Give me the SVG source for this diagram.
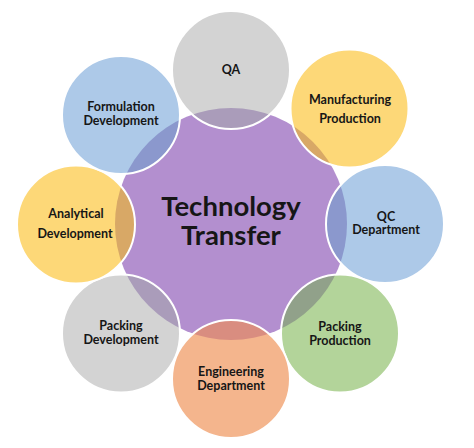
<svg xmlns="http://www.w3.org/2000/svg" width="474" height="448" viewBox="0 0 474 448">
  <defs>
    <clipPath id="core">
      <circle cx="231" cy="224" r="116"/>
    </clipPath>
    <style>
      .ring { fill: none; stroke: #ffffff; stroke-width: 2; }
      .lbl { font-family: Lato, "Open Sans", "DejaVu Sans", sans-serif; font-weight: bold; font-size: 12.5px; fill: #161616; text-anchor: middle; }
      .title { font-family: Lato, "Open Sans", "DejaVu Sans", sans-serif; font-weight: bold; font-size: 27.5px; fill: #161616; text-anchor: middle; }
      .gray { fill: #d3d3d3; } .gray-ov { fill: #aa9cba; }
      .yel { fill: #fdd878; } .yel-ov { fill: #d8a866; }
      .blue { fill: #adc9e8; } .blue-ov { fill: #8b98cd; }
      .grn { fill: #b3d49a; } .grn-ov { fill: #91a18a; }
      .org { fill: #f4b58d; } .org-ov { fill: #d98d80; }
    </style>
  </defs>
  <rect width="474" height="448" fill="#ffffff"/>

  <g id="technology-transfer">
    <circle cx="231" cy="224" r="116" fill="#b38fcf"/>
  </g>

  <g id="connectors"></g>

  <g id="qa">
    <circle class="gray" cx="231" cy="70" r="59"/>
    <circle class="gray-ov" cx="231" cy="70" r="59" clip-path="url(#core)"/>
    <circle class="ring" cx="231" cy="70" r="59"/>
    <text class="lbl" x="231" y="74">QA</text>
  </g>

  <g id="manufacturing-production">
    <circle class="yel" cx="349.5" cy="108.5" r="59"/>
    <circle class="yel-ov" cx="349.5" cy="108.5" r="59" clip-path="url(#core)"/>
    <circle class="ring" cx="349.5" cy="108.5" r="59"/>
    <text class="lbl" x="350" y="104">Manufacturing</text>
    <text class="lbl" x="350" y="123">Production</text>
  </g>

  <g id="qc-department">
    <circle class="blue" cx="385" cy="224" r="59"/>
    <circle class="blue-ov" cx="385" cy="224" r="59" clip-path="url(#core)"/>
    <circle class="ring" cx="385" cy="224" r="59"/>
    <text class="lbl" x="386" y="220.5">QC</text>
    <text class="lbl" x="386" y="234">Department</text>
  </g>

  <g id="packing-production">
    <circle class="grn" cx="340" cy="333.5" r="59"/>
    <circle class="grn-ov" cx="340" cy="333.5" r="59" clip-path="url(#core)"/>
    <circle class="ring" cx="340" cy="333.5" r="59"/>
    <text class="lbl" x="340" y="331">Packing</text>
    <text class="lbl" x="340" y="345">Production</text>
  </g>

  <g id="engineering-department">
    <circle class="org" cx="231" cy="379" r="59"/>
    <circle class="org-ov" cx="231" cy="379" r="59" clip-path="url(#core)"/>
    <circle class="ring" cx="231" cy="379" r="59"/>
    <text class="lbl" x="231" y="376">Engineering</text>
    <text class="lbl" x="231" y="390">Department</text>
  </g>

  <g id="packing-development">
    <circle class="gray" cx="121" cy="333.5" r="59"/>
    <circle class="gray-ov" cx="121" cy="333.5" r="59" clip-path="url(#core)"/>
    <circle class="ring" cx="121" cy="333.5" r="59"/>
    <text class="lbl" x="121" y="330">Packing</text>
    <text class="lbl" x="121" y="344">Development</text>
  </g>

  <g id="analytical-development">
    <circle class="yel" cx="76" cy="224.5" r="59"/>
    <circle class="yel-ov" cx="76" cy="224.5" r="59" clip-path="url(#core)"/>
    <circle class="ring" cx="76" cy="224.5" r="59"/>
    <text class="lbl" x="76" y="218">Analytical</text>
    <text class="lbl" x="75" y="238">Development</text>
  </g>

  <g id="formulation-development">
    <circle class="blue" cx="121" cy="115" r="59"/>
    <circle class="blue-ov" cx="121" cy="115" r="59" clip-path="url(#core)"/>
    <circle class="ring" cx="121" cy="115" r="59"/>
    <text class="lbl" x="121" y="111">Formulation</text>
    <text class="lbl" x="121" y="125">Development</text>
  </g>

  <g id="technology-transfer-label">
    <text class="title" x="231" y="216">Technology</text>
    <text class="title" x="231" y="245">Transfer</text>
  </g>
</svg>
